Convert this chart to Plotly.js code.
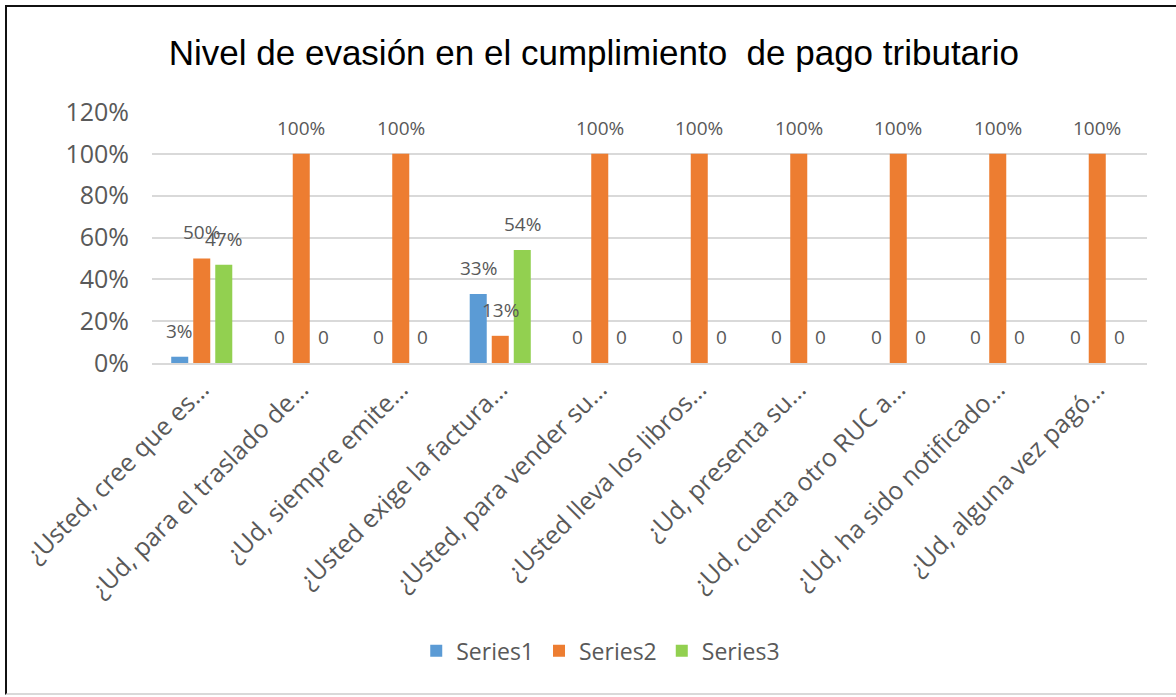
<!DOCTYPE html>
<html>
<head>
<meta charset="utf-8">
<script src="https://cdn.plot.ly/plotly-3.0.1.min.js"></script>
<style>
  html, body { margin: 0; padding: 0; background: #fff; }
  #frame { position: absolute; left: 5px; top: 5px; width: 1171px; height: 690px;
           border-left: 2px solid #111; border-top: 2px solid #111; border-bottom: 2px solid #d9d9d9; box-sizing: border-box; }
  #chart { position: absolute; left: 0; top: 0; width: 1176px; height: 697px; }
</style>
</head>
<body>
<div id="frame"></div>
<div id="chart"></div>
<script>
const categories = [
  "¿Usted, cree que es…",
  "¿Ud, para el traslado de…",
  "¿Ud, siempre emite…",
  "¿Usted exige la factura…",
  "¿Usted, para vender su…",
  "¿Usted lleva los libros…",
  "¿Ud, presenta su…",
  "¿Ud, cuenta otro RUC a…",
  "¿Ud, ha sido notificado…",
  "¿Ud, alguna vez pagó…"
];
const seriesNames = ["Series1", "Series2", "Series3"];
const series1 = [0.03, 0, 0, 0.33, 0, 0, 0, 0, 0, 0];
const series2 = [0.50, 1.00, 1.00, 0.13, 1.00, 1.00, 1.00, 1.00, 1.00, 1.00];
const series3 = [0.47, 0, 0, 0.54, 0, 0, 0, 0, 0, 0];
const yTicks = [0, 0.2, 0.4, 0.6, 0.8, 1.0, 1.2];

const colors = ["#5B9BD5", "#ED7D31", "#92D050"];
const allSeries = [series1, series2, series3];
const labelFont = {family: "Open Sans, sans-serif", size: 19, color: "#595959"};

const traces = allSeries.map((vals, i) => ({
  type: "bar",
  name: seriesNames[i],
  x: categories,
  y: vals,
  marker: {color: colors[i]},
  hoverinfo: "none"
}));

function fmt(v) { return v === 0 ? "0" : Math.round(v * 100) + "%"; }

const shifts = [-22, 0, 22];
const annotations = [];
allSeries.forEach((vals, i) => {
  vals.forEach((v, j) => {
    annotations.push({
      x: categories[j], y: v, xref: "x", yref: "y",
      text: fmt(v), showarrow: false,
      xshift: shifts[i], yshift: 26,
      font: labelFont
    });
  });
});

const layout = {
  width: 1176, height: 697,
  paper_bgcolor: "rgba(0,0,0,0)",
  plot_bgcolor: "rgba(0,0,0,0)",
  margin: {l: 152, r: 29, t: 112, b: 334},
  title: {
    text: "Nivel de evasión en el cumplimiento\u00a0 de pago tributario",
    font: {family: "Liberation Sans, Arial, sans-serif", size: 35, color: "#000"},
    x: 0.505, xref: "container", xanchor: "center",
    y: 0.925, yref: "container", yanchor: "middle"
  },
  barmode: "group",
  bargap: 0.336,
  bargroupgap: 0.227,
  showlegend: true,
  legend: {
    orientation: "h",
    x: 0.451, xanchor: "center", xref: "paper",
    y: -1.147, yanchor: "middle", yref: "paper",
    font: {family: "Open Sans, sans-serif", size: 23, color: "#595959"},
    itemclick: false
  },
  xaxis: {
    type: "category",
    tickangle: -45,
    tickfont: {family: "Open Sans, sans-serif", size: 25, color: "#595959"},
    showline: true, linecolor: "#D9D9D9", linewidth: 2,
    ticks: "", showgrid: false,
    automargin: false
  },
  yaxis: {
    range: [0, 1.2],
    tickvals: yTicks,
    tickformat: ".0%",
    tickfont: {family: "Open Sans, sans-serif", size: 25, color: "#595959"},
    showgrid: true, gridcolor: "#D9D9D9", gridwidth: 2,
    zeroline: false,
    ticks: "", ticklabelstandoff: 22,
    automargin: false
  },
  annotations: annotations
};

Plotly.newPlot("chart", traces, layout, {staticPlot: true});
</script>
</body>
</html>
